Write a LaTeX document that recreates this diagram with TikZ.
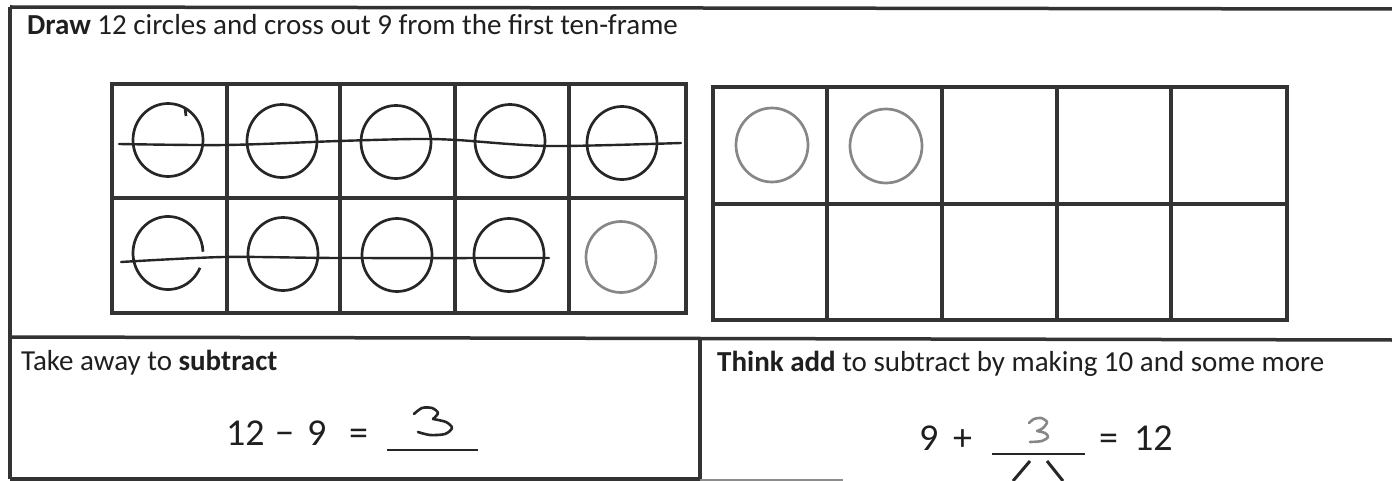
\documentclass[tikz,border=0pt]{standalone}
\usepackage{fontspec}
\setmainfont{Carlito}
\begin{document}
\begin{tikzpicture}[x=1pt,y=-1pt,
  border/.style={draw=black!80, line width=3.5pt},
  grid/.style={draw=black!80, line width=3.8pt, line cap=rect},
  ring/.style={draw=black!85, line width=2.7pt},
  grayring/.style={draw=black!47, line width=2.7pt},
  cross/.style={draw=black!85, line width=2.4pt, line cap=round},
  hand/.style={draw=black!85, line width=2.6pt, line cap=round, line join=round},
  grayhand/.style={draw=black!47, line width=2.6pt, line cap=round, line join=round},
  lbl/.style={anchor=base west, inner sep=0pt, text=black!88, font=\fontsize{29}{34}\selectfont},
  eq/.style={anchor=base west, inner sep=0pt, text=black!88, font=\fontsize{38}{44}\selectfont}]
\useasboundingbox (0,0) rectangle (1392,481);

% outer borders and dividers
\draw[border] (10,7) -- (1392,9);
\draw[border] (10,7) -- (10,479);
\draw[border] (10,337) -- (1392,340);
\draw[border] (10,479) -- (700,479);
\draw[border] (700,338) -- (700,481);
\draw[draw=black!45, line width=2pt] (700,480) -- (843,480);

% left ten-frame
\draw[grid] (112,84) rectangle (686,313);
\draw[grid] (112,198) -- (686,198);
\foreach \x in {227,340,455,569} \draw[grid] (\x,84) -- (\x,313);

% right ten-frame
\draw[grid] (713,87) rectangle (1287,320);
\draw[grid] (713,204) -- (1287,204);
\foreach \x in {827,942,1057,1171} \draw[grid] (\x,87) -- (\x,320);

% circles in left frame
\foreach \cx/\cy in {168/140,282/141,396/142,510/141,622/143,283/254,397/255,509/255}
  \draw[ring] (\cx,\cy) ellipse [x radius=35, y radius=36.5];
\draw[ring] (168,253) ++(24:35 and 36.5) arc [start angle=24, end angle=358, x radius=35, y radius=36.5];
\draw[ring] (185,108) -- (186,116);
\draw[grayring] (621,257) ellipse [x radius=35, y radius=35.5];

% circles in right frame
\draw[grayring] (772,145) ellipse [x radius=36, y radius=37];
\draw[grayring] (886,146) ellipse [x radius=36, y radius=37];

% crossing lines
\draw[cross] plot[smooth] coordinates {(119,144) (226,145) (339,141) (415,139) (457,140) (549,146) (681,143)};
\draw[cross] plot[smooth] coordinates {(121,262) (224,257) (339,258) (549,258)};

% texts
\node[lbl] (hdr) at (27,35) {\textbf{Draw} 12 circles and cross out 9 from the first ten-frame};
\node[lbl] (take) at (21,370) {Take away to \textbf{subtract}};
\node[lbl] (think) at (717,371) {\textbf{Think add} to subtract by making 10 and some more};

% left equation
\node[eq] (l12) at (226,445) {12};
\node[eq] (lminus) at (275,445) {−};
\node[eq] (l9) at (307,445) {9};
\node[eq] (leq) at (349,445) {=};
\draw[draw=black!85, line width=2.5pt] (387,450) -- (478,450);
\draw[hand] plot[smooth] coordinates {(414,414) (422,408) (432,408) (438,413) (433,419)}
  -- plot[smooth] coordinates {(433,419) (446,422) (452,428) (445,434) (430,435) (418,432)};

% right equation
\node[eq] (r9) at (919,450) {9};
\node[eq] (rplus) at (953,450) {+};
\draw[draw=black!85, line width=2.5pt] (992,454) -- (1085,454);
\node[eq] (req) at (1099,450) {=};
\node[eq] (r12) at (1134,450) {12};
\draw[grayhand] plot[smooth] coordinates {(1029,423) (1034,419) (1041,418) (1047,422) (1043,428) (1037,431)}
  -- plot[smooth] coordinates {(1037,431) (1045,433) (1048,437) (1042,441) (1030,442)};
\draw[draw=black!85, line width=3pt] (1030,461) -- (1013,481);
\draw[draw=black!85, line width=3pt] (1047,461) -- (1063,481);
\end{tikzpicture}
\end{document}
